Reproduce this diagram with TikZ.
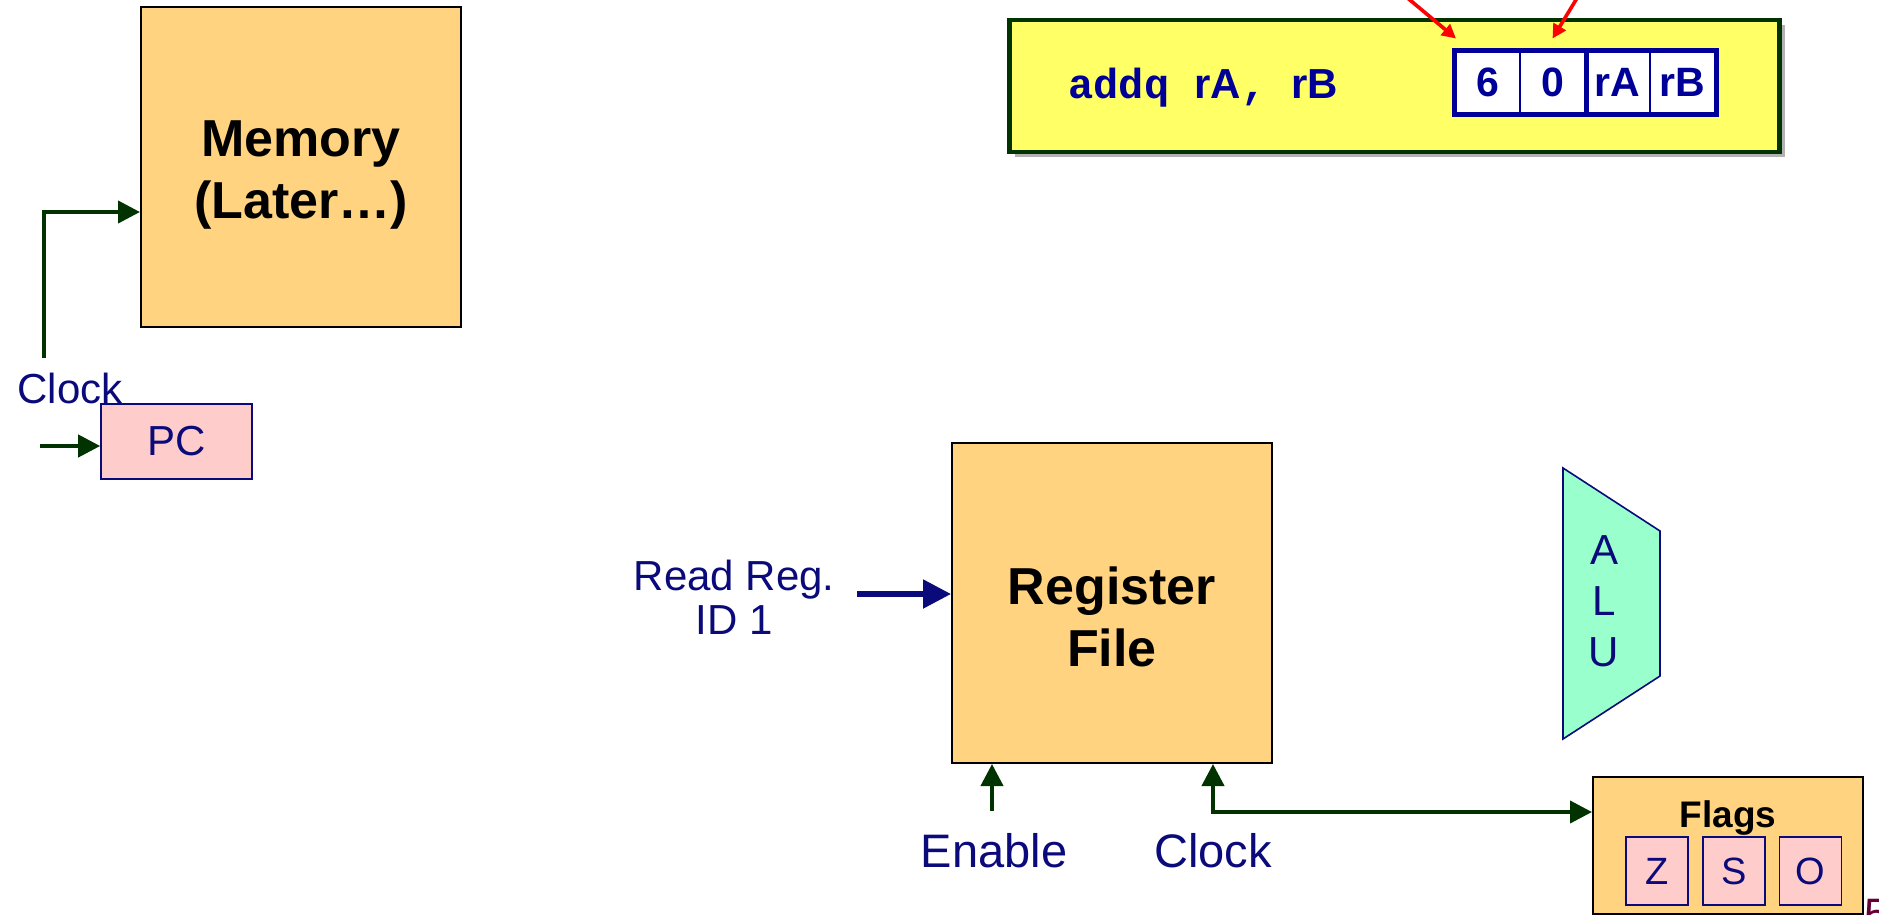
\documentclass[tikz,border=0pt]{standalone}
\usepackage{fontspec}
\setmainfont{Liberation Sans}
\setsansfont{Liberation Sans}
\setmonofont{Liberation Mono}
\usetikzlibrary{arrows.meta, positioning, shadows}

\definecolor{blockfill}{HTML}{FFD37F}
\definecolor{regpink}{HTML}{FFCCCC}
\definecolor{labelblue}{HTML}{0A0A7A}
\definecolor{wiregreen}{HTML}{003300}
\definecolor{alugreen}{HTML}{99FFCC}
\definecolor{instryellow}{HTML}{FFFF66}
\definecolor{codeblue}{HTML}{000099}
\definecolor{slidered}{HTML}{660033}

\begin{document}
\begin{tikzpicture}[x=0.5pt, y=-0.5pt,
            % Styles
            block/.style={rectangle, draw=black, fill=blockfill, line width=1pt, minimum width=160pt, minimum height=160pt, inner sep=0pt},
            blocktext/.style={font=\fontsize{26}{31}\selectfont\bfseries, align=center, inner sep=0pt},
            lbl/.style={text=labelblue, font=\fontsize{21}{22}\selectfont, align=center, inner sep=0pt},
            biglbl/.style={lbl, font=\fontsize{23.5}{25}\selectfont},
            regbox/.style={rectangle, draw=labelblue, fill=regpink, line width=0.8pt, text=labelblue, inner sep=0pt},
            instr/.style={rectangle, draw=wiregreen, fill=instryellow, line width=2.2pt, minimum width=385pt, minimum height=66pt, drop shadow={shadow xshift=2.5pt, shadow yshift=-2.5pt, fill=black, opacity=0.3}},
            cell/.style={rectangle, draw=codeblue, fill=white, line width=1pt, minimum width=32.5pt, minimum height=31pt, inner sep=0pt, text=codeblue, font=\fontsize{20.5}{22}\selectfont\bfseries},
            wire/.style={draw=wiregreen, line width=2pt, >={Triangle[length=11pt, width=11pt]}},
            busline/.style={draw=labelblue, line width=2.6pt, -{Triangle[length=14pt, width=14pt]}},
            pointer/.style={draw=red, line width=1.8pt, -{Triangle[length=7pt, width=7pt]}}
        ]

        \path[use as bounding box, fill=white] (0,0) rectangle (1879,916);

        % Memory and PC
        \node [block, label={[blocktext, yshift=-4.25pt]center:Memory\\(Later…)}] (mem) at (301,167) {};
        \node [regbox, minimum width=75.5pt, minimum height=37.5pt, font=\fontsize{21}{22}\selectfont] (pc) at (176.5,441.5) {PC};
        \node [lbl, anchor=base] (pcclk) at (70,403) {Clock};
        \coordinate (memclk) at (44,358);
        \coordinate (pcin) at (40,446);
        \draw [wire, ->] (memclk) |- ([yshift=-22.5pt]mem.west);
        \draw [wire, ->] (pcin) -- ([yshift=-2.25pt]pc.west);

        % Instruction encoding
        \node [instr] (instr) at (1394.5,86) {};
        \node [anchor=base west, inner sep=0pt, text=codeblue, font=\fontsize{21}{24}\selectfont\bfseries] (asm) at (1068,98) {{\ttfamily addq }rA{\ttfamily, }rB};
        \foreach \t [count=\i] in {6,0,rA,rB}
            \node [cell] (c\i) at (1422.5+65*\i,82.5) {\t};
        \draw [codeblue, line width=2.5pt] (c1.north west) rectangle (c4.south east);
        \draw [codeblue, line width=2.5pt] (c2.north east) -- (c2.south east);
        \coordinate (opsrc) at (1386,-20);
        \coordinate (fnsrc) at (1588,-20);
        \draw [pointer] (opsrc) -- ([shift={(1pt,6pt)}]c1.north west);
        \draw [pointer] (fnsrc) -- ([yshift=6pt]c2.north);

        % Register file
        \node [block, label={[blocktext, yshift=-7pt]center:Register\\File}] (reg) at (1112,603) {};
        \coordinate (rdin) at (857,594);
        \draw [busline] (rdin) -- ([yshift=4.5pt]reg.west);
        \node [lbl, left=11pt of rdin, yshift=-1.5pt] (rdlbl) {Read Reg.\\ID 1};
        \coordinate (enin) at (992,811);
        \draw [wire, ->] (enin) -- (enin |- reg.south);
        \node [biglbl, anchor=base] (enlbl) at (994,867) {Enable};
        \coordinate (clkreg) at (1213,812);
        \node [biglbl, anchor=base] (clklbl) at (1213,867) {Clock};

        % ALU
        \draw [draw=labelblue, fill=alugreen, line width=0.8pt] (1563,468) -- (1660,531) -- (1660,676) -- (1563,739) -- cycle;
        \node [lbl, font=\fontsize{21}{25.5}\selectfont] (alu) at (1604,601) {A\\L\\U};

        % Condition codes
        \node [block, minimum width=135pt, minimum height=68.5pt] (flags) at (1728,845.5) {};
        \node [anchor=base, inner sep=0pt, font=\fontsize{18.5}{20}\selectfont\bfseries] (flagslbl) at (1728,827) {Flags};
        \foreach \f/\x in {Z/1657,S/1734,O/1810.5}
            \node [regbox, minimum width=31pt, minimum height=34pt, font=\fontsize{19}{20}\selectfont] (flag\f) at (\x,871) {\f};
        \draw [wire, <->] (clkreg |- reg.south) |- (flags.west |- clkreg);

        \node [anchor=north west, inner sep=0pt, text=slidered, font=\fontsize{22}{24}\selectfont] (slideno) at (1864,899) {5};

    \end{tikzpicture}
\end{document}
